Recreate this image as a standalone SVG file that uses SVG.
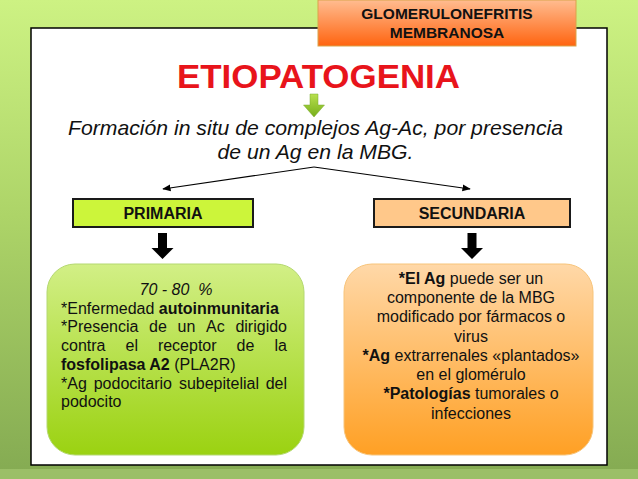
<svg xmlns="http://www.w3.org/2000/svg" width="638" height="479" viewBox="0 0 638 479">
<defs>
<linearGradient id="bg" x1="0" y1="0" x2="0" y2="1">
<stop offset="0" stop-color="#cdf283"/>
<stop offset="0.45" stop-color="#add468"/>
<stop offset="1" stop-color="#84aa52"/>
</linearGradient>
<linearGradient id="gTitle" x1="0" y1="0" x2="0" y2="1">
<stop offset="0" stop-color="#ffbc90"/>
<stop offset="1" stop-color="#ff6410"/>
</linearGradient>
<linearGradient id="gGreen" x1="0" y1="0" x2="0" y2="1">
<stop offset="0" stop-color="#d2ef86"/>
<stop offset="1" stop-color="#9bd211"/>
</linearGradient>
<linearGradient id="gOrange" x1="0" y1="0" x2="0" y2="1">
<stop offset="0" stop-color="#ffd8a8"/>
<stop offset="1" stop-color="#ffa024"/>
</linearGradient>
<linearGradient id="gArrow" x1="0" y1="0" x2="0" y2="1">
<stop offset="0" stop-color="#b8e04e"/>
<stop offset="1" stop-color="#76ae1a"/>
</linearGradient>
<marker id="ah" viewBox="0 0 10 10" refX="9" refY="5" markerWidth="7" markerHeight="7" orient="auto">
<path d="M0,1 L10,5 L0,9 Z" fill="#000"/>
</marker>
<style>
.t{font-family:"Liberation Sans",Arial,sans-serif;fill:#111}
.hd{font-weight:bold;font-size:15.5px}
.lb{font-weight:bold;font-size:16px}
.body{font-size:16px}
.b{font-weight:bold}
</style>
</defs>
<rect width="638" height="479" fill="url(#bg)"/>
<rect x="0" y="469" width="638" height="10" fill="#a4c870" opacity="0.7"/>
<rect x="31" y="28" width="576" height="437" fill="#fff" stroke="#000" stroke-width="1.5"/>

<g id="title-box">
<rect x="318" y="0" width="258" height="46" fill="url(#gTitle)" stroke="#d9a34a" stroke-width="1"/>
<text class="t hd" x="447" y="19" text-anchor="middle">GLOMERULONEFRITIS</text>
<text class="t hd" x="447" y="38" text-anchor="middle">MEMBRANOSA</text>
</g>

<g id="heading">
<text x="318.5" y="88" text-anchor="middle" font-family="Liberation Sans,Arial,sans-serif" font-weight="bold" font-size="33" fill="#e8141b" textLength="283" lengthAdjust="spacingAndGlyphs">ETIOPATOGENIA</text>
<path d="M310,94 H318 V105 H324.5 L314,117 L303.5,105 H310 Z" fill="url(#gArrow)" stroke="#7aa830" stroke-width="0.5"/>
</g>

<g id="formacion" transform="translate(315.5,0) scale(1.06,1)">
<text class="t" x="0" y="135" text-anchor="middle" font-style="italic" font-size="20">Formación in situ de complejos Ag-Ac, por presencia</text>
<text class="t" x="0" y="159" text-anchor="middle" font-style="italic" font-size="20">de un Ag en la MBG.</text>
</g>

<g id="connectors" stroke="#000" stroke-width="1.2" fill="none">
<line x1="314" y1="167" x2="163" y2="189" marker-end="url(#ah)"/>
<line x1="314" y1="167" x2="470" y2="189" marker-end="url(#ah)"/>
<path d="M158,233 H167 V248 H173.5 L162.5,259 L151.5,248 H158 Z" fill="#000" stroke="none"/>
<path d="M467.5,233 H476.5 V248 H483 L472,259 L461,248 H467.5 Z" fill="#000" stroke="none"/>
</g>

<g id="primaria">
<rect x="73" y="199" width="180" height="28" fill="#ccf53a" stroke="#1a1a1a" stroke-width="2"/>
<text class="t lb" x="163" y="219" text-anchor="middle">PRIMARIA</text>
</g>

<g id="secundaria">
<rect x="374" y="199" width="196" height="28" fill="#ffc88a" stroke="#1a1a1a" stroke-width="2"/>
<text class="t lb" x="472" y="219" text-anchor="middle">SECUNDARIA</text>
</g>

<g id="primaria-detail">
<rect x="47" y="264" width="257" height="191" rx="28" fill="url(#gGreen)" stroke="#b4d870" stroke-width="1"/>
<text class="t body" x="176" y="295" text-anchor="middle" font-style="italic" xml:space="preserve">70 - 80  %</text>
<text class="t body" x="61" y="313.5">*Enfermedad <tspan class="b">autoinmunitaria</tspan></text>
<text class="t body" y="332"><tspan x="61">*Presencia</tspan><tspan x="149.1">de</tspan><tspan x="177.6">un</tspan><tspan x="206.1">Ac</tspan><tspan x="287" text-anchor="end">dirigido</tspan></text>
<text class="t body" y="351"><tspan x="61">contra</tspan><tspan x="125.5">el</tspan><tspan x="157.9">receptor</tspan><tspan x="236.6">de</tspan><tspan x="287" text-anchor="end">la</tspan></text>
<text class="t body" x="61" y="370"><tspan class="b">fosfolipasa A2</tspan> (PLA2R)</text>
<text class="t body" y="388.5"><tspan x="61">*Ag</tspan><tspan x="93.7">podocitario</tspan><tspan x="178.9">subepitelial</tspan><tspan x="287" text-anchor="end">del</tspan></text>
<text class="t body" x="61" y="407">podocito</text>
</g>

<g id="secundaria-detail">
<rect x="344" y="264" width="249" height="191" rx="28" fill="url(#gOrange)" stroke="#f7c47a" stroke-width="1"/>
<text class="t body" x="471" y="284" text-anchor="middle"><tspan class="b">*El Ag</tspan> puede ser un</text>
<text class="t body" x="471" y="303" text-anchor="middle">componente de la MBG</text>
<text class="t body" x="471" y="322" text-anchor="middle">modificado por fármacos o</text>
<text class="t body" x="471" y="342" text-anchor="middle">virus</text>
<text class="t body" x="471" y="361" text-anchor="middle"><tspan class="b">*Ag</tspan> extrarrenales «plantados»</text>
<text class="t body" x="471" y="380" text-anchor="middle">en el glomérulo</text>
<text class="t body" x="471" y="399" text-anchor="middle"><tspan class="b">*Patologías</tspan> tumorales o</text>
<text class="t body" x="471" y="419" text-anchor="middle">infecciones</text>
</g>
</svg>
